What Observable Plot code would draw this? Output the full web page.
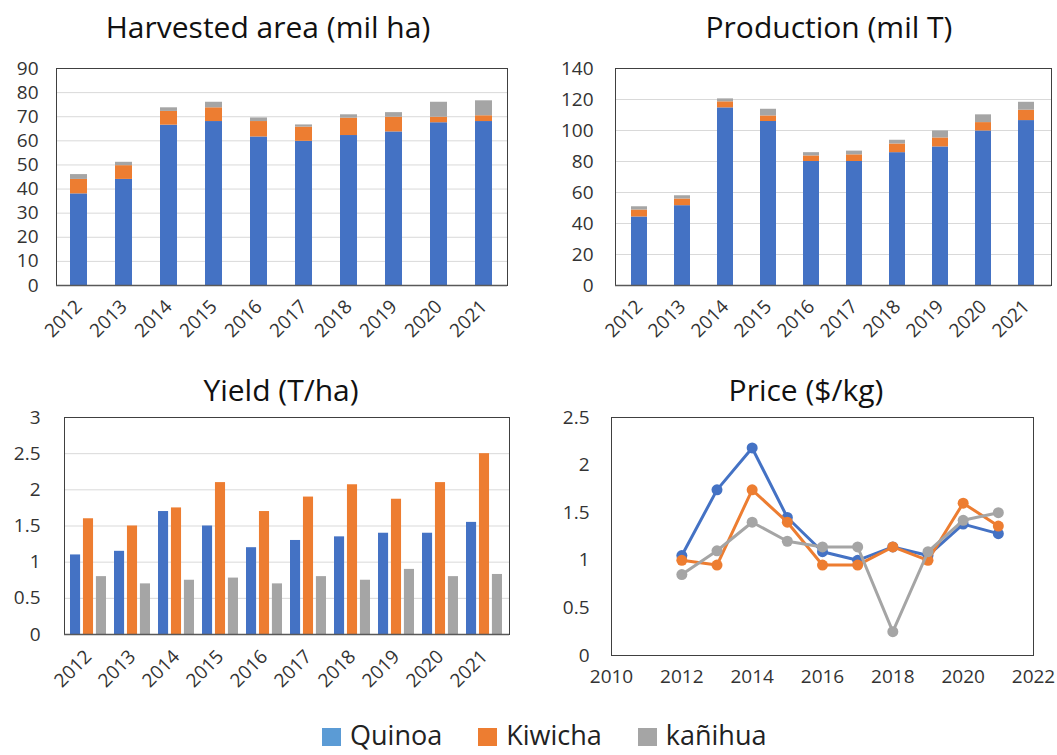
<!DOCTYPE html>
<html>
<head>
<meta charset="utf-8">
<script src="https://cdn.jsdelivr.net/npm/d3@7"></script>
<script src="https://cdn.jsdelivr.net/npm/@observablehq/plot@0.6"></script>
<style>
  html, body { margin: 0; padding: 0; background: #fff; }
  #root { position: relative; width: 1057px; height: 755px; font-family: "Open Sans", sans-serif; overflow: hidden; }
  .panel { position: absolute; }
  .title { position: absolute; transform: translate(-50%, -50%); font-size: 30px; line-height: 1; color: #111; white-space: nowrap; }
  #legend { position: absolute; left: 322px; top: 721px; height: 27px; display: flex; align-items: center; gap: 36px; font-size: 27px; line-height: 27px; color: #222; }
  #legend span.item { display: inline-flex; align-items: center; }
  #legend i { display: inline-block; width: 19px; height: 18px; margin-right: 9px; margin-top: 4px; }
</style>
</head>
<body>
<div id="root"></div>
<script>
const years = [2012, 2013, 2014, 2015, 2016, 2017, 2018, 2019, 2020, 2021];
const seriesNames = ["Quinoa", "Kiwicha", "kañihua"];
const seriesColors = ["#4472C4", "#ED7D31", "#A5A5A5"];
const legendColors = ["#5B9BD5", "#ED7D31", "#A5A5A5"];

// Harvested area (mil ha)
const areaQuinoa  = [38, 44, 66.5, 68, 61.6, 59.8, 62.2, 63.7, 67.5, 68];
const areaKiwicha = [6, 5.7, 5.7, 5.7, 6.4, 5.9, 7.2, 6.1, 2.3, 2.4];
const areaKanihua = [2, 1.4, 1.5, 2.3, 1.5, 0.9, 1.4, 1.9, 6.2, 6.2];

// Production (mil T)
const prodQuinoa  = [44.2, 51.5, 114.6, 105.8, 80, 80, 85.7, 89.4, 99.7, 106.4];
const prodKiwicha = [4.5, 4.3, 3.9, 3.6, 3.6, 4.3, 5.6, 5.8, 5.4, 6.7];
const prodKanihua = [2.1, 2.1, 1.9, 4.3, 2.1, 2.4, 2.4, 4.5, 5.0, 5.1];

// Yield (T/ha)
const yieldQuinoa  = [1.1, 1.15, 1.7, 1.5, 1.2, 1.3, 1.35, 1.4, 1.4, 1.55];
const yieldKiwicha = [1.6, 1.5, 1.75, 2.1, 1.7, 1.9, 2.07, 1.87, 2.1, 2.5];
const yieldKanihua = [0.8, 0.7, 0.75, 0.78, 0.7, 0.8, 0.75, 0.9, 0.8, 0.83];

// Price ($/kg)
const priceQuinoa  = [1.05, 1.74, 2.18, 1.45, 1.09, 1.0, 1.14, 1.05, 1.38, 1.28];
const priceKiwicha = [1.0, 0.95, 1.74, 1.4, 0.95, 0.95, 1.14, 1.0, 1.6, 1.36];
const priceKanihua = [0.85, 1.1, 1.4, 1.2, 1.14, 1.14, 0.25, 1.09, 1.42, 1.5];

const titles = ["Harvested area (mil ha)", "Production (mil T)", "Yield (T/ha)", "Price ($/kg)"];

function toLong(arrs) {
  const out = [];
  arrs.forEach((arr, si) => arr.forEach((v, i) => out.push({year: years[i], series: seriesNames[si], value: v})));
  return out;
}

const root = document.getElementById("root");
const baseStyle = {fontFamily: "Open Sans, sans-serif", fontSize: "19px", color: "#333", background: "white", overflow: "visible"};
const color = {domain: seriesNames, range: seriesColors};
const fmt = d => String(d);

function place(el, left, top) {
  const d = document.createElement("div");
  d.className = "panel";
  d.style.left = left + "px";
  d.style.top = top + "px";
  d.appendChild(el);
  root.appendChild(d);
}
function title(text, cx, cy) {
  const d = document.createElement("div");
  d.className = "title";
  d.textContent = text;
  d.style.left = cx + "px";
  d.style.top = cy + "px";
  root.appendChild(d);
}

function stackedChart(data, yDomain, yTicks, width, height, margins, tickPad) {
  return Plot.plot({
    width, height, ...margins,
    style: baseStyle,
    color,
    x: {type: "band", domain: years, paddingInner: 0.62, paddingOuter: 0.31, label: null, tickSize: 0, tickPadding: 18, tickRotate: -45, tickFormat: fmt},
    y: {domain: yDomain, ticks: yTicks, label: null, tickSize: 0, tickPadding: tickPad, tickFormat: fmt},
    marks: [
      Plot.gridY(yTicks, {stroke: "#d9d9d9", strokeOpacity: 1}),
      Plot.barY(data, {x: "year", y: "value", fill: "series"}),
      Plot.frame({stroke: "#404040", strokeWidth: 1}),
      Plot.ruleY([0], {stroke: "#595959", strokeWidth: 1.5})
    ]
  });
}

// Chart 1
place(stackedChart(toLong([areaQuinoa, areaKiwicha, areaKanihua]), [0, 90], d3.range(0, 91, 10),
  525, 310, {marginLeft: 56, marginRight: 18, marginTop: 18, marginBottom: 75}, 18), 0, 50);
title(titles[0], 268, 27);

// Chart 2
place(stackedChart(toLong([prodQuinoa, prodKiwicha, prodKanihua]), [0, 140], d3.range(0, 141, 20),
  527, 310, {marginLeft: 85, marginRight: 6, marginTop: 18, marginBottom: 75}, 22), 530, 50);
title(titles[1], 829, 27);

// Chart 3 (grouped bars)
{
  const width = 525, height = 300, mL = 64, mR = 16;
  const pi = 0.18, po = 0.09;
  const step = (width - mL - mR) / (years.length - pi + 2 * po);
  const bw = step * (1 - pi);
  const barW = bw * 0.29;
  const insets = [[0, bw - barW], [(bw - barW) / 2, (bw - barW) / 2], [bw - barW, 0]];
  const yTicks = d3.range(0, 3.01, 0.5);
  const arrs = [yieldQuinoa, yieldKiwicha, yieldKanihua];
  const marks = [Plot.gridY(yTicks, {stroke: "#d9d9d9", strokeOpacity: 1})];
  arrs.forEach((arr, si) => {
    const data = arr.map((v, i) => ({year: years[i], series: seriesNames[si], value: v}));
    marks.push(Plot.barY(data, {x: "year", y: "value", fill: "series", insetLeft: insets[si][0], insetRight: insets[si][1]}));
  });
  marks.push(Plot.frame({stroke: "#404040", strokeWidth: 1}));
  marks.push(Plot.ruleY([0], {stroke: "#595959", strokeWidth: 1.5}));
  const p = Plot.plot({
    width, height, marginLeft: mL, marginRight: mR, marginTop: 17, marginBottom: 66,
    style: baseStyle,
    color,
    x: {type: "band", domain: years, paddingInner: pi, paddingOuter: po, label: null, tickSize: 0, tickPadding: 19, tickRotate: -45, tickFormat: fmt},
    y: {domain: [0, 3], ticks: yTicks, label: null, tickSize: 0, tickPadding: 24, tickFormat: fmt},
    marks
  });
  place(p, 0, 400);
  title(titles[2], 281, 390);
}

// Chart 4 (price lines)
{
  const arrs = [priceQuinoa, priceKiwicha, priceKanihua];
  const marks = [];
  arrs.forEach((arr, si) => {
    const data = arr.map((v, i) => ({year: years[i], series: seriesNames[si], value: v}));
    marks.push(Plot.line(data, {x: "year", y: "value", stroke: "series", strokeWidth: 3}));
    marks.push(Plot.dot(data, {x: "year", y: "value", fill: "series", r: 5.5}));
  });
  marks.push(Plot.frame({stroke: "#404040", strokeWidth: 1}));
  const p = Plot.plot({
    width: 517, height: 300, marginLeft: 71, marginRight: 24, marginTop: 17, marginBottom: 45,
    style: baseStyle,
    color,
    x: {domain: [2010, 2022], ticks: d3.range(2010, 2023, 2), label: null, tickSize: 0, tickPadding: 14, tickFormat: fmt},
    y: {domain: [0, 2.5], ticks: d3.range(0, 2.51, 0.5), label: null, tickSize: 0, tickPadding: 22, tickFormat: fmt},
    marks
  });
  place(p, 540, 400);
  title(titles[3], 806, 390);
}

// Legend
{
  const lg = document.createElement("div");
  lg.id = "legend";
  seriesNames.forEach((n, i) => {
    const s = document.createElement("span");
    s.className = "item";
    const sw = document.createElement("i");
    sw.style.background = legendColors[i];
    s.appendChild(sw);
    s.appendChild(document.createTextNode(n));
    lg.appendChild(s);
  });
  root.appendChild(lg);
}
</script>
</body>
</html>
